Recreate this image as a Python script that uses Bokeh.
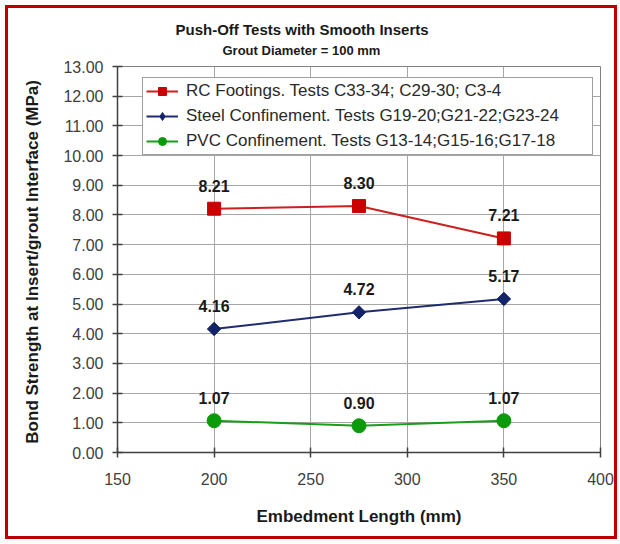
import numpy as np
from bokeh.plotting import figure
from bokeh.models import (Range1d, FixedTicker, NumeralTickFormatter, Legend, LegendItem,
                          Title, ColumnDataSource, LabelSet)
from bokeh.core.properties import value
from bokeh.embed import file_html
from bokeh.resources import INLINE

# ---- data ----
embedment = [200, 275, 350]
rc_footings = [8.21, 8.30, 7.21]
steel_conf = [4.16, 4.72, 5.17]
pvc_conf = [1.07, 0.90, 1.07]
series_names = ["RC Footings. Tests C33-34; C29-30; C3-4",
                "Steel Confinement. Tests G19-20;G21-22;G23-24",
                "PVC Confinement. Tests G13-14;G15-16;G17-18"]
x_ticks = [150, 200, 250, 300, 350, 400]
y_ticks = list(range(0, 14))

FONT = "Liberation Sans"

p = figure(width=606, height=528, x_range=Range1d(150, 400), y_range=Range1d(0, 13),
           output_backend="svg", toolbar_location=None, title=None,
           min_border_left=109, min_border_right=14, min_border_top=58, min_border_bottom=84)
p.styles = {"margin": "8px", "outline": "3px solid #c00000", "outline-offset": "0px"}
p.background_fill_color = "white"
p.border_fill_color = "white"
p.outline_line_color = "#808080"
p.outline_line_width = 1

# titles (last added is outermost)
p.add_layout(Title(text="Grout Diameter = 100 mm", align="left", offset=105, text_font=FONT,
                   text_font_size="13px", text_font_style="bold", text_color="#1a1a1a",
                   standoff=18), "above")
p.add_layout(Title(text="Push-Off Tests with  Smooth Inserts", align="left", offset=58,
                   text_font=FONT, text_font_size="15px", text_font_style="bold",
                   text_color="#1a1a1a", standoff=-12), "above")

# grids
p.xgrid.ticker = FixedTicker(ticks=x_ticks)
p.ygrid.ticker = FixedTicker(ticks=y_ticks)
for g in (p.xgrid, p.ygrid):
    g.grid_line_color = "#a6a6a6"
    g.grid_line_width = 1

# axes
p.xaxis.ticker = FixedTicker(ticks=x_ticks)
p.yaxis.ticker = FixedTicker(ticks=y_ticks)
p.yaxis.formatter = NumeralTickFormatter(format="0.00")
for ax in (p.xaxis, p.yaxis):
    ax.axis_line_color = "#404040"
    ax.axis_line_width = 1.5
    ax.major_tick_line_color = "#404040"
    ax.major_tick_line_width = 1.5
    ax.major_tick_in = 5
    ax.major_tick_out = 5
    ax.minor_tick_line_color = None
    ax.major_label_text_font = FONT
    ax.major_label_text_font_size = "16px"
    ax.major_label_text_color = "#404040"
    ax.axis_label_text_font = FONT
    ax.axis_label_text_font_size = "17px"
    ax.axis_label_text_font_style = "bold"
    ax.axis_label_text_color = "#1a1a1a"
p.xaxis.major_label_standoff = 15
p.yaxis.major_label_standoff = 9
p.xaxis.axis_label = "Embedment Length (mm)"
p.yaxis.axis_label = "Bond Strength at Insert/grout Interface  (MPa)"
p.xaxis.axis_label_standoff = 19
p.yaxis.axis_label_standoff = 18

colors_line = ["#cc1f1f", "#1f2d6e", "#1a9e1a"]
colors_mark = ["#cc0000", "#14246a", "#0a9a0a"]
series = [rc_footings, steel_conf, pvc_conf]
markers = ["square", "square", "circle"]
angles = [0, np.pi / 4, 0]
sizes = [13, 9.5, 14]

items = []
for name, vals, cl, cm, mk, ang, sz in zip(series_names, series, colors_line, colors_mark,
                                            markers, angles, sizes):
    src = ColumnDataSource(dict(x=embedment, y=vals, lbl=["%.2f" % v for v in vals]))
    lr = p.line("x", "y", source=src, line_color=cl, line_width=2)
    sr = p.scatter("x", "y", source=src, marker=mk, angle=ang, size=sz,
                   fill_color=cm, line_color=cm)
    if ang:
        # diamond drawn inside the rotated square, used as the legend symbol
        sr = p.scatter("x", "y", source=src, marker="diamond", size=12,
                       fill_color=cm, line_color=cm)
    p.add_layout(LabelSet(x="x", y="y", text="lbl", source=src, y_offset=23,
                          text_align="center", text_baseline="middle",
                          text_font=value(FONT), text_font_size=value("16px"),
                          text_font_style="bold", text_color="#1a1a1a"))
    items.append(LegendItem(label=name, renderers=[lr, sr]))

legend = Legend(items=items, location=(25, 297), orientation="vertical",
                label_text_font=FONT, label_text_font_size="17px", label_text_color="#2a2a2a",
                glyph_width=32, glyph_height=20, label_height=20, label_standoff=8,
                label_width=403, spacing=5, padding=3, margin=0,
                border_line_color="#404040", border_line_width=1,
                background_fill_color="white", background_fill_alpha=1)
p.add_layout(legend, "center")

open("out.html", "w").write(file_html(p, INLINE))
